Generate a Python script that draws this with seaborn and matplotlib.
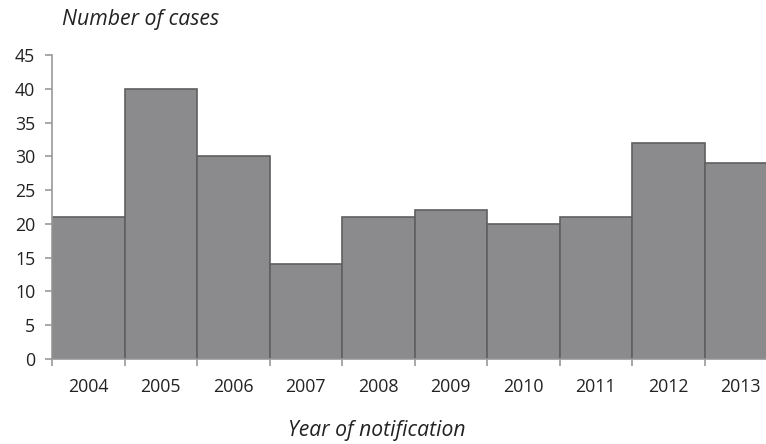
import numpy as np
import pandas as pd
import seaborn as sns
import matplotlib.pyplot as plt

# Chart data
years = ['2004', '2005', '2006', '2007', '2008', '2009', '2010', '2011', '2012', '2013']
cases = [21, 40, 30, 14, 21, 22, 20, 21, 32, 29]

df = pd.DataFrame({'year': years, 'cases': cases})

sns.set_style('white')
plt.rcParams['font.family'] = ['Open Sans', 'DejaVu Sans']

fig = plt.figure(figsize=(7.66, 4.44), dpi=100)
ax = fig.add_axes([52 / 766, 85 / 444, 725 / 766, 304 / 444])

sns.barplot(data=df, x='year', y='cases', color='#8b8b8e', saturation=1,
            width=1, edgecolor='#5f5f5f', linewidth=1.2, ax=ax)

# Axes range and ticks
ax.set_ylim(0, 45)
ax.set_yticks(range(0, 50, 5))
ax.set_xlim(-0.5, len(years) - 0.5)

# labels sit under the bars, tick marks at the bar edges
ax.set_xticks(np.arange(len(years)), years)
ax.set_xticks(np.arange(len(years) + 1) - 0.5, minor=True)
ax.tick_params(axis='x', which='major', length=0, pad=14, labelsize=12.8, labelcolor='#222222')
ax.tick_params(axis='x', which='minor', length=5, width=1.2, color='#9a9a9a', direction='out')
ax.tick_params(axis='y', length=5, width=1.2, color='#9a9a9a', direction='out',
               labelsize=12.8, labelcolor='#222222', pad=7)
ax.xaxis.set_ticks_position('bottom')
ax.yaxis.set_ticks_position('left')

for side in ['top', 'right']:
    ax.spines[side].set_visible(False)
for side in ['left', 'bottom']:
    ax.spines[side].set_color('#9a9a9a')
    ax.spines[side].set_linewidth(1.2)

ax.set_xlabel('')
ax.set_ylabel('')
fig.text(62 / 766, 1 - 20 / 444, 'Number of cases', style='italic', fontsize=15.3,
         color='#222222', ha='left', va='center')
fig.text(377 / 766, 1 - 430 / 444, 'Year of notification', style='italic', fontsize=15.2,
         color='#222222', ha='center', va='center')

fig.savefig('out.png', dpi=100)
